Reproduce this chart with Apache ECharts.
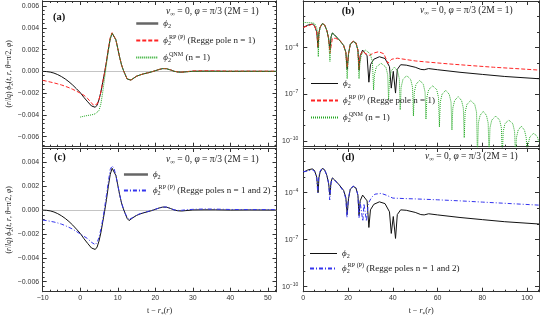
<!DOCTYPE html>
<html><head><meta charset="utf-8">
<script src="https://cdn.jsdelivr.net/npm/echarts@6/dist/echarts.min.js"></script>
<style>html,body{margin:0;padding:0;background:#fff}#c{width:540px;height:320px}</style>
</head><body><div id="c"></div><script>
// ---------- data ----------
const tLin = [-10,-9,-8,-7,-6,-5,-4,-3,-2,-1,0,1,2,3,3.5,4,4.5,5,5.5,6,6.5,7,7.5,8,8.5,9,9.5,10,10.5,11,11.5,12,12.5,13,13.5,14,15,16,17,18,19,20,21,22,23,24,25,26,27,28,30,33,36,40,45,52.3];
const phiLin = [0,-0.00002,-0.00007,-0.00016,-0.0003,-0.00048,-0.0007,-0.00096,-0.00126,-0.0016,-0.00195,-0.0024,-0.0028,-0.00318,-0.0033,-0.0033,-0.0031,-0.0026,-0.0019,-0.001,-0.0001,0.0009,0.002,0.003,0.0035,0.0034,0.0029,0.0021,0.0013,0.0006,0.0001,-0.0003,-0.0007,-0.00088,-0.0008,-0.00065,-0.00045,-0.00032,-0.00022,-0.00014,-0.00005,0.00006,0.00017,0.00025,0.00024,0.00014,0.00001,-0.00006,-0.00008,-0.00005,0.00001,0.00002,0.00002,0,0.00001,0];
const rpLin = [-0.00083,-0.0009,-0.00098,-0.00106,-0.00115,-0.00125,-0.00137,-0.0015,-0.00165,-0.00182,-0.002,-0.0022,-0.0025,-0.0029,-0.0031,-0.0032,-0.003,-0.0026,-0.0019,-0.001,-0.0001,0.0009,0.0021,0.0031,0.00355,0.0034,0.0029,0.0021,0.0013,0.0006,0.0001,-0.0003,-0.0007,-0.00088,-0.0008,-0.00065,-0.00045,-0.00032,-0.00022,-0.00014,-0.00005,0.00006,0.00017,0.00026,0.00025,0.00014,0.00001,-0.00005,-0.00007,-0.00004,0.00004,0.00005,0.00004,0.00002,0.00002,0.00001];
const rp12Lin = [-0.00084,-0.00088,-0.00094,-0.001,-0.00108,-0.00118,-0.0013,-0.00145,-0.0016,-0.0018,-0.002,-0.0022,-0.0024,-0.0027,-0.0028,-0.0029,-0.0027,-0.0023,-0.0016,-0.0008,0.0002,0.0013,0.0024,0.0034,0.0037,0.0035,0.0029,0.0021,0.0013,0.0006,0.0001,-0.0003,-0.0006,-0.0008,-0.00078,-0.00062,-0.00042,-0.0003,-0.0002,-0.00012,-0.00004,0.00006,0.00018,0.00026,0.00025,0.00014,0.00002,-0.00003,-0.00002,0.00002,0.00006,0.00009,0.00008,0.00005,0.00004,0.00004];
const tQnm = [0,1,2,3,4,4.5,5,5.5,6,6.5,7,7.5,8,8.5,9,9.5,10,10.5,11,11.5,12,12.5,13,13.5,14,15,16,17,18,19,20,21,22,23,24,25,26,27,28,30,33,36,40,45,52.3];
const qnmLin = [-0.0042,-0.00412,-0.00405,-0.004,-0.0039,-0.0038,-0.0036,-0.003,-0.0019,-0.0006,0.0007,0.0019,0.003,0.0035,0.0034,0.0029,0.0021,0.0013,0.0006,0.0001,-0.0003,-0.0007,-0.00088,-0.0008,-0.00065,-0.00045,-0.00032,-0.00022,-0.00014,-0.00005,0.00006,0.00017,0.00025,0.00024,0.00014,0.00001,-0.00006,-0.00007,-0.00005,0,0.00001,-0.00001,0.00001,0,0];

// |phi| for the log panels
const phiLogT = [0,2,4,5,6,6.6,7,7.5,8.5,9.5,10.5,11.3,11.9,12.4,13,14,16,18,19,19.6,20.2,21,22.3,23.5,24.4,24.9,25.4,26.5,27.3,28.5,29.3,30,31.5,34,36.5,38.5,39.3,40.2,41.2,42,43.5,46,50,52.5,54,56,60,70,80,90,105.3];
const phiLogV = [2e-3,2.8e-3,3.3e-3,2.6e-3,1e-3,1e-4,9e-4,2e-3,3.5e-3,2.9e-3,1.3e-3,4e-4,7e-5,5e-4,8.8e-4,6.5e-4,3.2e-4,1.4e-4,5e-5,4e-6,4e-5,1.7e-4,2.5e-4,2e-4,7e-5,3.5e-6,3e-5,7e-5,8e-5,3e-5,6e-7,8e-6,1.8e-5,2.6e-5,2e-5,6e-6,2.5e-7,3e-6,1.2e-7,4e-6,8e-6,7.5e-6,5.5e-6,4e-6,3.8e-6,4.5e-6,3.8e-6,2.6e-6,1.9e-6,1.4e-6,1e-6];
const rpLogT = [0,2,4,5,6,6.6,7,7.5,8.5,9.5,10.5,11.3,11.9,12.4,13,14.5,16.5,18,19,19.6,20.2,21,22.3,23.5,24.4,24.9,25.4,26.5,28,29.5,31.5,33.7,36,37.8,39.5,42,45,50,55,65,75,85,95,105.3];
const rpLogV = [2e-3,2.5e-3,3.2e-3,2.6e-3,1e-3,1e-4,9e-4,2.1e-3,3.55e-3,2.9e-3,1.3e-3,4e-4,4.4e-5,1.2e-4,4e-4,4e-4,2.8e-4,1.4e-4,5e-5,5e-6,4e-5,1.7e-4,2.6e-4,2.1e-4,7e-5,4e-6,3e-5,6e-5,4e-5,3.2e-5,4.5e-5,5.5e-5,4e-5,1e-5,1.8e-5,2.1e-5,1.8e-5,1.4e-5,1.2e-5,9e-6,7e-6,5.5e-6,4.5e-6,3.6e-6];
const qnmLogT = [0,2,4,5,6,6.4,6.7,7,7.5,8.5,9.5,10.5,11.3,11.9,12.4,13,14,16,18,19,19.6,20.2,21,22.3,23.5,24.4,24.9,
 25.3,26.1,27.8,29.9,30.9,31.4, 31.8,32.6,34.7,36.9,37.7,38.1, 38.5,39.3,40.7,42.1,42.9,43.3, 43.7,44.5,46.2,48,48.8,49.2,
 49.6,50.4,52,53.6,54.4,54.8, 55.2,56,57.8,59.6,60.4,60.8, 61.2,62,63.6,65.2,66,66.4, 66.8,67.6,69.2,70.7,71.5,71.9,
 72.3,73.1,74.8,76.6,77.4,77.8, 78.2,79,80.4,81.8,82.6,83, 83.4,84.2,86,87.7,88.5,88.9, 89.3,90.1,91.8,93.6,94.4,94.8,
 95.2,96,97.4,98.8,99.6,100, 100.4,101.2,103,104.6,105.3];
const qnmLogV = [4.2e-3,4.05e-3,3.9e-3,3.6e-3,1.9e-3,8e-4,2.6e-5,7e-4,1.9e-3,3.5e-3,2.9e-3,1.3e-3,4e-4,1.3e-5,5e-4,8.8e-4,6.5e-4,3.2e-4,1.4e-4,5e-5,1e-6,4e-5,1.7e-4,2.5e-4,2e-4,7e-5,1e-6,
 1.2e-5,4e-5,7e-5,4e-5,1.2e-5,1.9e-7, 1.8e-6,5.6e-6,1e-5,5.6e-6,1.8e-6,4.4e-8, 1e-6,3.2e-6,5.6e-6,3.2e-6,1e-6,1e-8, 2.8e-7,8.9e-7,1.6e-6,8.9e-7,2.8e-7,4e-9,
 1.4e-7,4.5e-7,7.9e-7,4.5e-7,1.4e-7,2.5e-9, 6.3e-8,2e-7,3.5e-7,2e-7,6.3e-8,8e-10, 3.2e-8,1e-7,1.8e-7,1e-7,3.2e-8,5e-10, 1.3e-8,4e-8,7e-8,4e-8,1.3e-8,1.6e-10,
 7e-9,2.2e-8,4e-8,2.2e-8,7e-9,1e-11, 1.4e-9,4.5e-9,7.9e-9,4.5e-9,1.4e-9,1e-11, 7e-10,2.2e-9,4e-9,2.2e-9,7e-10,1e-11, 4e-10,1.3e-9,2.2e-9,1.3e-9,4e-10,1e-11,
 1.6e-10,5e-10,8.9e-10,5e-10,1.6e-10,1e-11, 5.6e-11,1.8e-10,3.2e-10,1.8e-10,8e-11];
const rp12LogT = [0,2,4,5,6,6.45,6.9,7.5,8.5,9.5,10.5,11.3,11.8,12.4,13,14,16,18,19,19.5,20.1,21,22.3,23.5,24.4,24.9,25.4,26,26.6,27.1,27.6,28.2,29,30.5,32,34.8,37,40,45,50,60,70,80,90,105.3];
const rp12LogV = [2.2e-3,2.4e-3,2.9e-3,2.3e-3,8e-4,1e-4,1e-3,2.4e-3,3.7e-3,2.9e-3,1.3e-3,4e-4,3.4e-5,4e-4,8e-4,6.2e-4,3e-4,1.2e-4,4e-5,2.5e-6,4e-5,1.8e-4,2.6e-4,2.1e-4,7e-5,2.5e-6,2.5e-5,3e-5,1.5e-6,2e-5,1.5e-5,1.5e-6,2e-5,5e-5,8e-5,9e-5,7e-5,4.5e-5,4.2e-5,4e-5,3.5e-5,3e-5,2.5e-5,2.1e-5,1.6e-5];

// tick values
const linXTicks = [-10,0,10,20,30,40,50];
const logXTicks = [0,20,40,60,80,100];
const linYTicks = [-0.006,-0.004,-0.002,0,0.002,0.004,0.006];
const logYTicks = [1e-10,1e-7,1e-4];

// ---------- helpers ----------
const SERIF = "'Liberation Serif','DejaVu Serif',serif";
const SANS = "'Liberation Sans','DejaVu Sans',sans-serif";
const INK = '#222';
function range(a, b, s, skip) { const r = []; for (let k = 0; a + k * s <= b + 1e-12; k++) { const v = +(a + k * s).toFixed(6); if (!skip.some(m => Math.abs(m - v) < 1e-9)) r.push(v); } return r; }
const linXMinor = range(-10, 52, 2, linXTicks);
const logXMinor = range(0, 105, 5, logXTicks);
const linYMinor = range(-0.0068, 0.0064, 0.0004, linYTicks);
const logYMinor = [-9,-8,-6,-5,-3,-2,-1].map(e => Math.pow(10, e));

function mkRich(fs, lh) {
  return {
    n: {fontFamily: SERIF, fontSize: fs, fontWeight: 'normal', color: INK, lineHeight: lh},
    i: {fontFamily: SERIF, fontSize: fs, fontWeight: 'normal', fontStyle: 'italic', color: INK, lineHeight: lh},
    sb: {fontFamily: SERIF, fontSize: fs * 0.68, fontWeight: 'normal', color: INK, lineHeight: lh / 2, verticalAlign: 'bottom'},
    sb0: {fontFamily: SERIF, fontSize: fs * 0.68, fontWeight: 'normal', color: INK, lineHeight: lh / 2, verticalAlign: 'bottom', width: 1},
    sp: {fontFamily: SERIF, fontSize: fs * 0.68, fontWeight: 'normal', color: INK, lineHeight: lh / 2, verticalAlign: 'top'},
    b: {fontFamily: SERIF, fontSize: fs + 1, fontWeight: 'bold', color: '#111', lineHeight: lh}
  };
}
const rich = mkRich(9, 12);
const richTitle = mkRich(9.5, 12);
const richSmall = mkRich(8, 11);
const labelRich = {
  n: {fontFamily: SANS, fontSize: 7, color: '#333', lineHeight: 10},
  s: {fontFamily: SANS, fontSize: 5, color: '#333', lineHeight: 5, verticalAlign: 'top'}
};

const grids = [
  {left: 42.7, top: 1, width: 233.8, height: 145.7},
  {left: 303.3, top: 1, width: 235.7, height: 145.7},
  {left: 42.7, top: 148, width: 233.8, height: 143.7},
  {left: 303.3, top: 148, width: 235.7, height: 143.7}
];

function frameAxes(kind, grid, type, min, max, major, minor, label, extra) {
  const pos = kind === 'x' ? ['bottom', 'top'] : ['left', 'right'];
  const res = [];
  [[major, 4], [minor, 2]].forEach(([vals, len], k) => {
    pos.forEach((p, j) => {
      const ax = {type, gridIndex: grid, min, max, position: p,
        splitLine: {show: false},
        axisLine: {show: true, onZero: false, lineStyle: {color: '#333', width: 1}},
        axisTick: {show: true, inside: true, length: len, customValues: vals, lineStyle: {color: '#333', width: 1}},
        axisLabel: {show: false}};
      if (type === 'log') ax.logBase = 10;
      if (k === 0 && j === 0) {
        if (label) ax.axisLabel = Object.assign({show: true, customValues: vals}, label);
        if (extra) Object.assign(ax, extra);
      }
      res.push(ax);
    });
  });
  return res;
}
const fmtLinX = v => (v < 0 ? '−' + Math.abs(v) : String(v));
const fmtLinY = v => (v < -1e-12 ? '−' : '') + Math.abs(v).toFixed(3);
const fmtLogY = v => '{n|10}{s|' + String(Math.round(Math.log10(v))).replace('-', '−') + '}';

const xLabel = {margin: 3, fontFamily: SANS, fontSize: 7, color: '#333', formatter: null};
const xName = {name: '{n|t − }{i|r}{sb|*}{n|(}{i|r}{n|)}', nameLocation: 'middle', nameGap: 14,
  nameTextStyle: {rich: richSmall}};
const yName = {name: '{n|(}{i|r}{n|/}{i|lq}{n|) }{i|ϕ}{sb|2}{n|(}{i|t}{n|, }{i|r}{n|, }{i|θ}{n|=π/2, }{i|φ}{n|)}',
  nameLocation: 'middle', nameGap: 27, nameRotate: 90, nameTextStyle: {rich: mkRich(7.5, 10)}};

const linXMin = -10, linXMax = 52.3, logXMax = 105.3;
const xAxis = [].concat(
  frameAxes('x', 0, 'value', linXMin, linXMax, linXTicks, linXMinor, null),
  frameAxes('x', 1, 'value', 0, logXMax, logXTicks, logXMinor, null),
  frameAxes('x', 2, 'value', linXMin, linXMax, linXTicks, linXMinor, Object.assign({}, xLabel, {formatter: fmtLinX}), xName),
  frameAxes('x', 3, 'value', 0, logXMax, logXTicks, logXMinor, Object.assign({}, xLabel, {formatter: fmtLinX}), xName)
);
const yLinLabel = {margin: 3.5, fontFamily: SANS, fontSize: 7, color: '#333', formatter: fmtLinY};
const yLogLabel = {margin: 5, formatter: fmtLogY, rich: labelRich};
const yAxis = [].concat(
  frameAxes('y', 0, 'value', -0.00692, 0.00646, linYTicks, linYMinor, yLinLabel, yName),
  frameAxes('y', 1, 'log', Math.pow(10, -10.37), Math.pow(10, -1.0), logYTicks, logYMinor, yLogLabel),
  frameAxes('y', 2, 'value', -0.00684, 0.0052, linYTicks, linYMinor, yLinLabel, yName),
  frameAxes('y', 3, 'log', Math.pow(10, -10.32), Math.pow(10, -1.15), logYTicks, logYMinor, yLogLabel)
);

const styles = {
  phi2: {color: '#111', width: 1, type: 'solid'},
  rp1: {color: '#ff2424', width: 1, type: [4, 2]},
  qnm1: {color: '#22a822', width: 1, type: [1, 1]},
  rp12: {color: '#3434ee', width: 1, type: [4, 2, 1, 2]}
};
function ser(name, g, ts, vs, extra) {
  return Object.assign({type: 'line', name, xAxisIndex: g * 4, yAxisIndex: g * 4,
    data: ts.map((t, k) => [t, vs[k]]), symbol: 'none', showSymbol: false, clip: true,
    lineStyle: styles[name], itemStyle: {color: styles[name].color}, animation: false, z: 3}, extra || {});
}
const zeroLine = {markLine: {silent: true, symbol: ['none', 'none'], label: {show: false},
  lineStyle: {color: '#c4c4c4', type: 'solid', width: 1}, data: [{yAxis: 0}], z: 1}};

const series = [
  ser('phi2', 0, tLin, phiLin, zeroLine),
  ser('rp1', 0, tLin, rpLin),
  ser('qnm1', 0, tQnm, qnmLin),
  ser('phi2', 1, phiLogT, phiLogV),
  ser('rp1', 1, rpLogT, rpLogV),
  ser('qnm1', 1, qnmLogT, qnmLogV),
  ser('phi2', 2, tLin, phiLin, zeroLine),
  ser('rp12', 2, tLin, rp12Lin),
  ser('phi2', 3, phiLogT, phiLogV),
  ser('rp12', 3, rp12LogT, rp12LogV)
];

const legendText = {
  phi2: '{i|ϕ}{sb|2}',
  rp1: '{i|ϕ}{sb0|2}{sp|RP (P)}{n| (Regge pole n = 1)}',
  qnm1: '{i|ϕ}{sb0|2}{sp|QNM}{n| (n = 1)}',
  rp12: '{i|ϕ}{sb0|2}{sp|RP (P)}{n| (Regge poles n = 1 and 2)}'
};
function legend(left, top, w, gap, names, thickPhi) {
  return {orient: 'vertical', left, top, itemWidth: w, itemHeight: 10, itemGap: gap, padding: 0,
    selectedMode: false,
    itemStyle: {opacity: 0},
    data: names.map(n => (n === 'phi2' ? {name: n, lineStyle: thickPhi ? {width: 2.5, color: '#666'} : {width: 1, color: '#111'}} : n)),
    formatter: n => legendText[n], textStyle: {fontWeight: 'normal', rich}};
}

const titleText = '{i|v}{sb|∞}{n| = 0, }{i|φ}{n| = π/3 (2M = 1)}';
function txt(text, left, top) { return {text, left, top, padding: 0, textStyle: {fontWeight: 'normal', fontSize: 9.5, rich: richTitle}}; }

const option = {
  animation: false,
  backgroundColor: '#fff',
  grid: grids,
  xAxis, yAxis, series,
  legend: [
    legend(135, 19, 22, 5, ['phi2', 'rp1', 'qnm1'], true),
    legend(310, 79, 27, 5, ['phi2', 'rp1', 'qnm1'], false),
    legend(122.7, 170, 24, 4, ['phi2', 'rp12'], true),
    legend(309, 249, 27, 3, ['phi2', 'rp12'], false)
  ],
  title: [
    txt('{b|(a)}', 53, 11), txt(titleText, 166, 5),
    txt('{b|(b)}', 341.7, 5), txt(titleText, 420, 4),
    txt('{b|(c)}', 54, 151), txt(titleText, 166, 153),
    txt('{b|(d)}', 341.7, 151), txt(titleText, 425, 150)
  ]
};
const chart = echarts.init(document.getElementById('c'), null, {renderer: 'canvas'});
chart.setOption(option);
</script></body></html>
